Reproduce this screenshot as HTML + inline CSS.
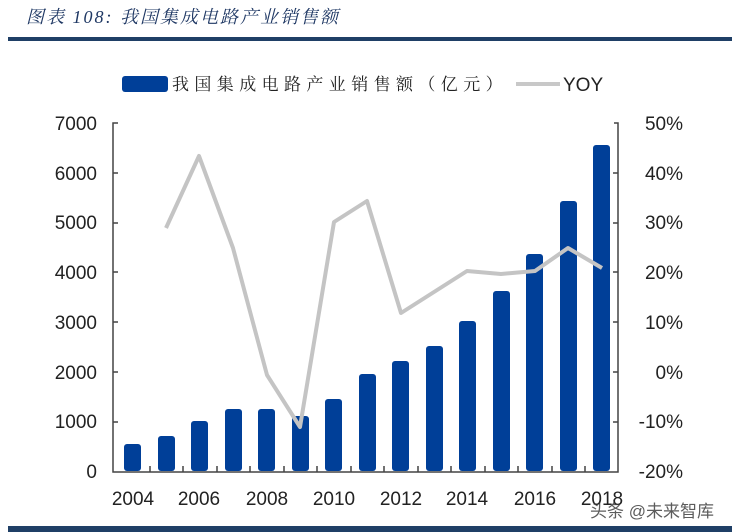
<!DOCTYPE html><html><head><meta charset="utf-8"><style>body{margin:0;background:#fff}svg{display:block}</style></head><body>
<svg width="740" height="532" xmlns="http://www.w3.org/2000/svg" font-family="Liberation Sans, Noto Sans CJK SC, sans-serif">
<text x="26" y="23" font-size="18" font-style="italic" fill="#1f3864" letter-spacing="2" font-family="Liberation Serif, Noto Serif CJK SC, serif">图表 108:  我国集成电路产业销售额</text>
<rect x="8" y="37" width="724" height="4" fill="#1f3f66"/>
<rect x="8" y="526" width="724" height="6" fill="#1f3f66"/>
<rect x="122" y="76" width="46" height="16" rx="3" fill="#003f98"/>
<text x="172" y="90" font-size="17" fill="#222" letter-spacing="5.4" font-family="Noto Serif CJK SC, serif">我国集成电路产业销售额（亿元）</text>
<line x1="516" y1="84" x2="560" y2="84" stroke="#c8c8c8" stroke-width="4"/>
<text x="563" y="91" font-size="19" fill="#222">YOY</text>
<g font-size="19" fill="#222" text-anchor="end">
<text x="97" y="130">7000</text><text x="97" y="180">6000</text><text x="97" y="229">5000</text><text x="97" y="279">4000</text><text x="97" y="329">3000</text><text x="97" y="379">2000</text><text x="97" y="428">1000</text><text x="97" y="478">0</text></g>
<g font-size="19" fill="#222" text-anchor="end">
<text x="683" y="130">50%</text><text x="683" y="180">40%</text><text x="683" y="229">30%</text><text x="683" y="279">20%</text><text x="683" y="329">10%</text><text x="683" y="379">0%</text><text x="683" y="428">-10%</text><text x="683" y="478">-20%</text></g>
<g fill="#003f98">
<rect x="124" y="444" width="17" height="27" rx="3"/>
<rect x="158" y="436" width="17" height="35" rx="3"/>
<rect x="191" y="421" width="17" height="50" rx="3"/>
<rect x="225" y="409" width="17" height="62" rx="3"/>
<rect x="258" y="409" width="17" height="62" rx="3"/>
<rect x="292" y="416" width="17" height="55" rx="3"/>
<rect x="325" y="399" width="17" height="72" rx="3"/>
<rect x="359" y="374" width="17" height="97" rx="3"/>
<rect x="392" y="361" width="17" height="110" rx="3"/>
<rect x="426" y="346" width="17" height="125" rx="3"/>
<rect x="459" y="321" width="17" height="150" rx="3"/>
<rect x="493" y="291" width="17" height="180" rx="3"/>
<rect x="526" y="254" width="17" height="217" rx="3"/>
<rect x="560" y="201" width="17" height="270" rx="3"/>
<rect x="593" y="145" width="17" height="326" rx="3"/>
</g>
<g stroke="#444" stroke-width="1.5" fill="none">
<path d="M118 123 H113 V472 H618 V123 H614"/>
<path d="M113 173h5M113 223h5M113 272h5M113 322h5M113 372h5M113 422h5"/>
<path d="M618 173h-5M618 223h-5M618 272h-5M618 322h-5M618 372h-5M618 422h-5"/>
<path d="M150 472v-6M183 472v-6M217 472v-6M250 472v-6M284 472v-6M317 472v-6M351 472v-6M384 472v-6M418 472v-6M451 472v-6M485 472v-6M518 472v-6M552 472v-6M585 472v-6"/>
</g>
<polyline points="166,228 199,156 233,248 267,375 300,427 334,222 367,201 401,313 434,292 467,271 501,274 535,271 568,248 602,268" fill="none" stroke="#c4c4c4" stroke-width="4" stroke-linejoin="round"/>
<g font-size="19" fill="#222" text-anchor="middle">
<text x="133" y="505">2004</text><text x="199" y="505">2006</text><text x="267" y="505">2008</text><text x="334" y="505">2010</text><text x="401" y="505">2012</text><text x="467" y="505">2014</text><text x="535" y="505">2016</text><text x="602" y="505">2018</text></g>
<text x="590" y="517" font-size="17" fill="#333" fill-opacity="0.8">头条 @未来智库</text>
</svg></body></html>
